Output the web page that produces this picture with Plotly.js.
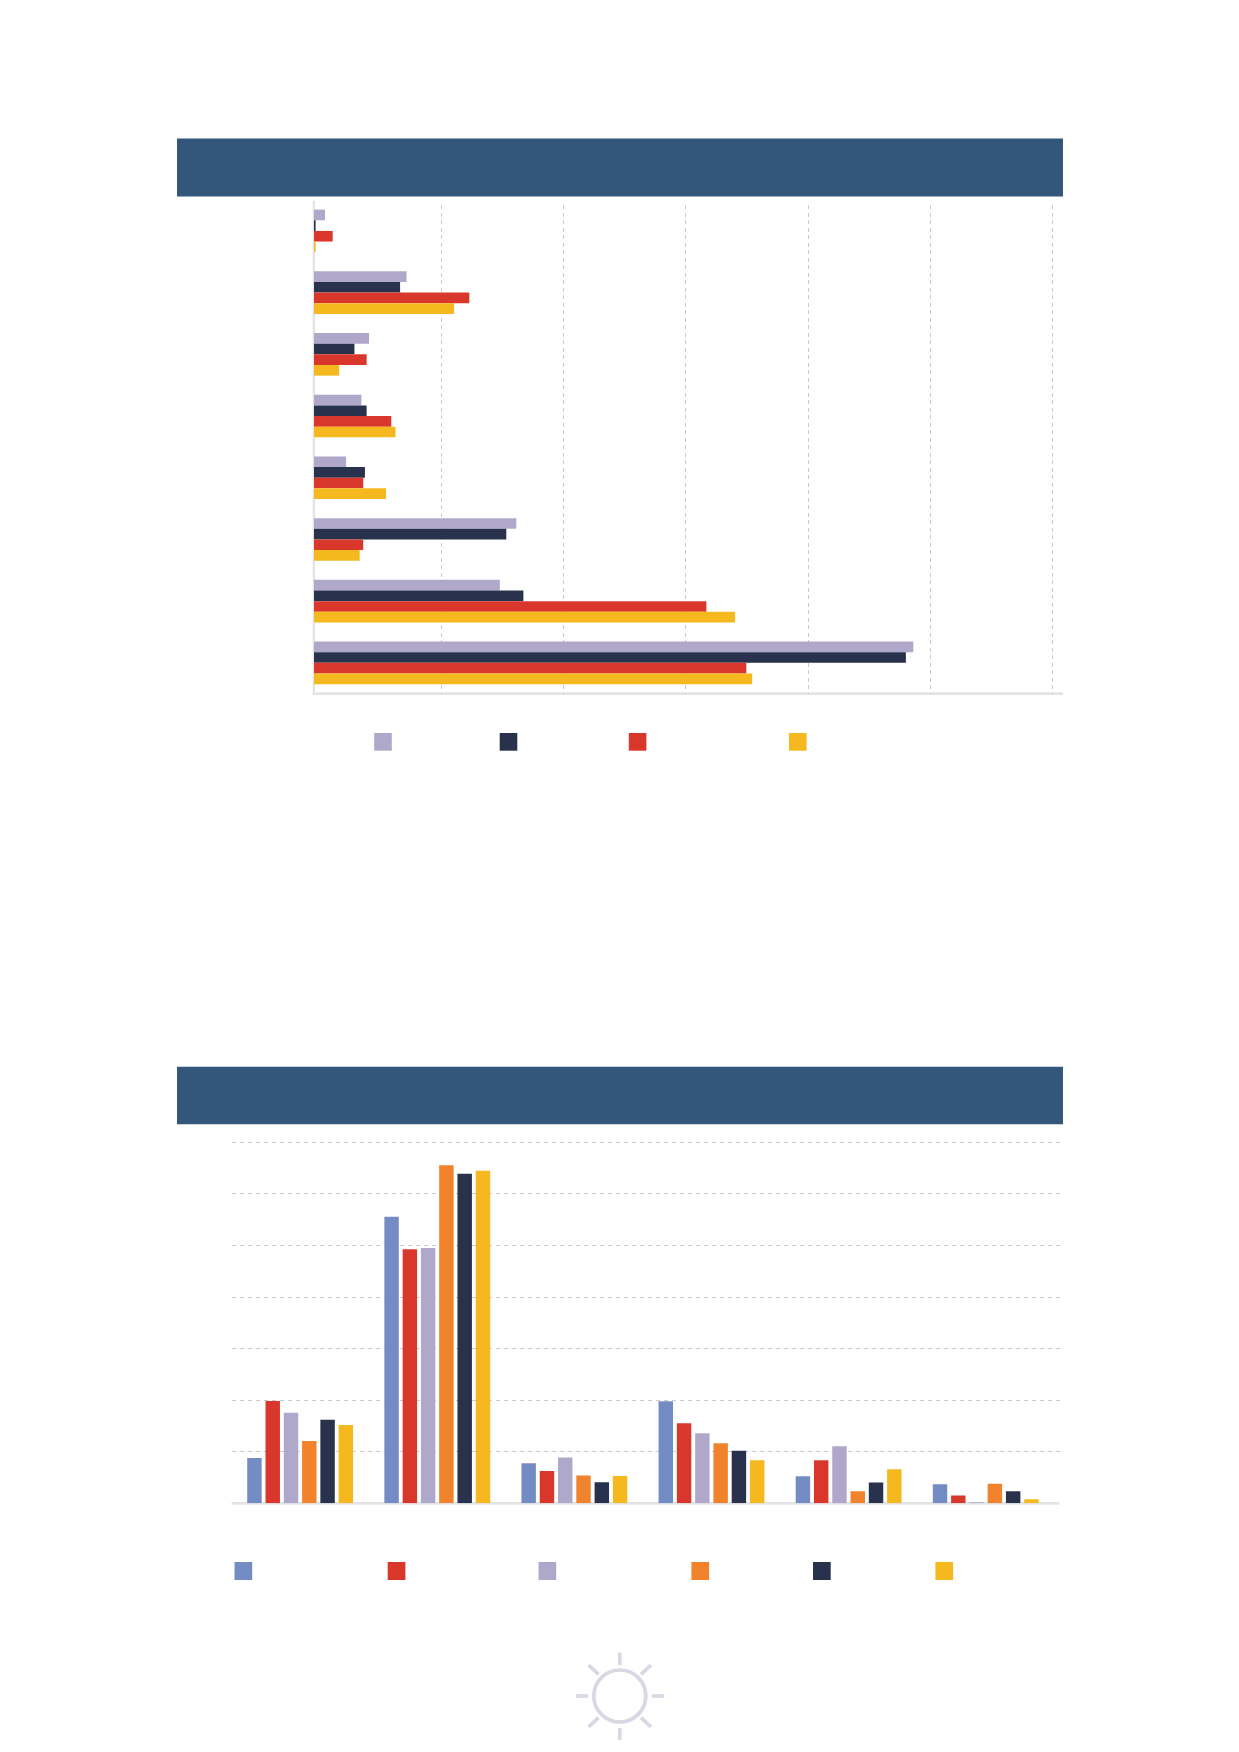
<!DOCTYPE html>
<html>
<head>
<meta charset="utf-8">
<script src="https://cdn.plot.ly/plotly-3.0.1.min.js"></script>
<style>
html,body{margin:0;padding:0;background:#fff;width:1239px;height:1752px;overflow:hidden}
#top,#bottom{position:absolute;left:0;width:1239px;height:876px}
#top{top:0}#bottom{top:876px}
</style>
</head>
<body>
<div id="top"></div>
<div id="bottom"></div>
<script>
// ---- Upper chart data (horizontal grouped bars) ----
const hCategories = ['Group 1','Group 2','Group 3','Group 4','Group 5','Group 6','Group 7','Group 8'];
const hSeriesNames = ['Series A','Series B','Series C','Series D'];
const hLavender = [0.91, 7.59, 4.52, 3.89, 2.64, 16.58, 15.23, 49.1];
const hNavy     = [0.14, 7.06, 3.32, 4.32, 4.18, 15.76, 17.16, 48.49];
const hRed      = [1.54, 12.73, 4.32, 6.34, 4.04, 4.04, 32.15, 35.42];
const hYellow   = [0.14, 11.48, 2.07, 6.68, 5.91, 3.75, 34.5, 35.9];
const hTicks    = [10.48, 20.47, 30.46, 40.48, 50.49, 60.49];

// ---- Lower chart data (vertical grouped bars) ----
const vCategories = ['Group 1','Group 2','Group 3','Group 4','Group 5','Group 6'];
const vSeriesNames = ['Series 1','Series 2','Series 3','Series 4','Series 5','Series 6'];
const vBlue     = [8.79, 55.58, 7.76, 19.78, 5.24, 3.68];
const vRed      = [19.84, 49.25, 6.27, 15.51, 8.34, 1.49];
const vLavender = [17.58, 49.5, 8.86, 13.57, 11.05, 0.19];
const vOrange   = [12.09, 65.54, 5.37, 11.64, 2.33, 3.81];
const vNavy     = [16.22, 63.9, 4.07, 10.21, 4.01, 2.33];
const vYellow   = [15.19, 64.5, 5.3, 8.34, 6.59, 0.78];
const vTicks    = [10, 20, 30, 40, 50, 60, 70];

// ---- Styling ----
const C = {lav:'#b0a8cb', navy:'#28324d', red:'#da372c', yel:'#f5b81f', blue:'#748cc4', ora:'#f0832b',
           banner:'#33567b', axis:'#e4e4e6', grid:'#cacaca', sun:'#d8d8e4'};
const W = 1239, H = 876;
const fx = x => x / W;
const rect = (x0,y0,x1,y1,color,top,layer) => ({type:'rect',xref:'paper',yref:'paper',layer:layer||'above',
  x0:fx(x0),x1:fx(x1),y0:1-(y0-top)/H,y1:1-(y1-top)/H,fillcolor:color,line:{width:0}});
const seg = (x0,y0,x1,y1,color,w,top) => ({type:'line',xref:'paper',yref:'paper',layer:'above',
  x0:fx(x0),x1:fx(x1),y0:1-(y0-top)/H,y1:1-(y1-top)/H,line:{color:color,width:w}});
const cfg = {displayModeBar:false, staticPlot:true};

// ---- Upper chart ----
const hColors = [C.lav, C.navy, C.red, C.yel];
const hValues = [hLavender, hNavy, hRed, hYellow];
const hTraces = hValues.map((v,i)=>({type:'bar',orientation:'h',name:hSeriesNames[i],
  x:v,y:hCategories,marker:{color:hColors[i],line:{width:0}}}));
const hLegendX = [374.2, 499.7, 628.8, 789];
const topShapes = [
  rect(177,138.5,1063,196.5,C.banner,0),
  rect(312.7,201,315,695,C.axis,0,'below'),
  rect(312.7,692.3,1063,695,C.axis,0,'below'),
  ...hLegendX.map((x,i)=>rect(x,733,x+17.6,750.7,hColors[i],0))
];
Plotly.newPlot('top', hTraces, {
  width:W, height:H, autosize:false, showlegend:false,
  margin:{l:0,r:0,t:0,b:0,pad:0}, paper_bgcolor:'#fff', plot_bgcolor:'rgba(0,0,0,0)',
  barmode:'group', bargap:0.31, bargroupgap:0,
  xaxis:{domain:[313.9/W,1063/W], range:[0,61.36], tickmode:'array', tickvals:hTicks, showticklabels:false,
    showgrid:true, gridcolor:C.grid, griddash:'4px,3.5px', gridwidth:1, zeroline:false,
    showline:false, ticks:''},
  yaxis:{domain:[1-694/H,1-205/H], type:'category', categoryorder:'array', categoryarray:hCategories,
    range:[7.505,-0.42], showticklabels:false, showgrid:false, zeroline:false,
    showline:false, ticks:''},
  shapes:topShapes
}, cfg);

// ---- Lower chart ----
const OFF = 876;
const vColors = [C.blue, C.red, C.lav, C.ora, C.navy, C.yel];
const vValues = [vBlue, vRed, vLavender, vOrange, vNavy, vYellow];
const vTraces = vValues.map((v,i)=>({type:'bar',name:vSeriesNames[i],
  x:vCategories,y:v,marker:{color:vColors[i],line:{width:0}}}));
const vLegendX = [234.5, 387.7, 538.5, 691.4, 813, 935.4];
const sunX = 619.8, sunY = 1696, sunR = 26;
const SW = 3.7;
const botShapes = [
  rect(177,1066.7,1063,1124.3,C.banner,OFF),
  rect(231.6,1502,1059.5,1504.8,C.axis,OFF,'below'),
  ...vLegendX.map((x,i)=>rect(x,1562,x+17.7,1580,vColors[i],OFF)),
  {type:'circle',xref:'paper',yref:'paper',layer:'above',
    x0:fx(sunX-sunR),x1:fx(sunX+sunR),y0:1-(sunY-sunR-OFF)/H,y1:1-(sunY+sunR-OFF)/H,
    fillcolor:'rgba(0,0,0,0)',line:{color:C.sun,width:SW}},
  seg(sunX,1652.7,sunX,1665,C.sun,SW,OFF),
  seg(sunX,1728,sunX,1740,C.sun,SW,OFF),
  seg(576,sunY,588.3,sunY,C.sun,SW,OFF),
  seg(651.7,sunY,664,sunY,C.sun,SW,OFF),
  seg(588.5,1665,598.5,1674.3,C.sun,SW,OFF),
  seg(651,1665,641,1674.3,C.sun,SW,OFF),
  seg(588.5,1727,598.5,1717.7,C.sun,SW,OFF),
  seg(651,1727,641,1717.7,C.sun,SW,OFF)
];
const vTopPx = 1136;   // plot area top, a little above the highest gridline
Plotly.newPlot('bottom', vTraces, {
  width:W, height:H, autosize:false, showlegend:false,
  margin:{l:0,r:0,t:0,b:0,pad:0}, paper_bgcolor:'#fff', plot_bgcolor:'rgba(0,0,0,0)',
  barmode:'group', bargap:0.2, bargroupgap:0.21,
  xaxis:{domain:[231.6/W,1059.5/W], type:'category', categoryorder:'array', categoryarray:vCategories,
    range:[-0.5,5.538], showticklabels:false, showgrid:false, zeroline:false,
    showline:false, ticks:''},
  yaxis:{domain:[1-(1503.3-OFF)/H,1-(vTopPx-OFF)/H], range:[0,71.22], tickmode:'array', tickvals:vTicks,
    showticklabels:false, showgrid:true, gridcolor:C.grid, griddash:'4px,4px', gridwidth:1,
    zeroline:false, showline:false, ticks:''},
  shapes:botShapes
}, cfg);
</script>
</body>
</html>
